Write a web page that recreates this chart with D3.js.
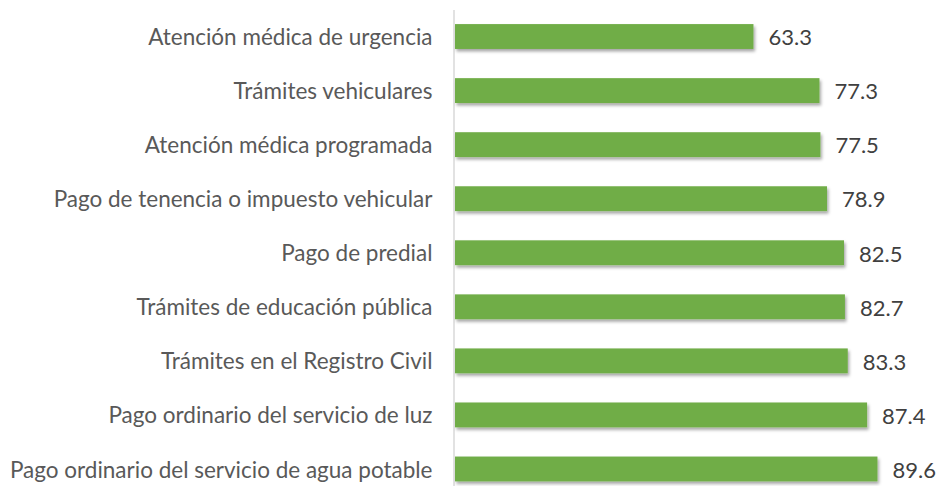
<!DOCTYPE html>
<html>
<head>
<meta charset="utf-8">
<script src="https://cdn.jsdelivr.net/npm/d3@7"></script>
<style>
  body { margin: 0; background: #fff; }
  svg text { font-family: Lato, sans-serif; }
</style>
</head>
<body>
<div id="chart"></div>
<script>
const categories = [
  'Atención médica de urgencia',
  'Trámites vehiculares',
  'Atención médica programada',
  'Pago de tenencia o impuesto vehicular',
  'Pago de predial',
  'Trámites de educación pública',
  'Trámites en el Registro Civil',
  'Pago ordinario del servicio de luz',
  'Pago ordinario del servicio de agua potable'
];
const values = [63.3, 77.3, 77.5, 78.9, 82.5, 82.7, 83.3, 87.4, 89.6];

const width = 939, height = 486;
const x0 = 455;

const svg = d3.select('#chart').append('svg')
  .attr('width', width)
  .attr('height', height);

// soft shadow under the bars
const defs = svg.append('defs');
defs.append('filter')
  .attr('id', 'shadow')
  .attr('x', '-5%').attr('y', '-30%')
  .attr('width', '115%').attr('height', '190%')
  .append('feDropShadow')
  .attr('dx', 1.5).attr('dy', 2.5)
  .attr('stdDeviation', 1.5)
  .attr('flood-color', '#000')
  .attr('flood-opacity', 0.35);

const x = d3.scaleLinear().domain([0, 100]).range([x0, x0 + 471.5]);
const y = d3.scaleBand()
  .domain(categories)
  .range([9.5, 496])
  .paddingInner(0.54)
  .paddingOuter(0.27);

const yAxis = svg.append('g')
  .attr('transform', `translate(${x0 - 1.5},0)`)
  .call(d3.axisLeft(y).tickSize(0).tickPadding(21));
yAxis.select('.domain').attr('stroke', '#d9d9d9').attr('stroke-width', 1.5);
yAxis.selectAll('text')
  .attr('dy', '0.38em')
  .style('font-size', '22.5px')
  .attr('fill', '#595959');

svg.selectAll('.bar')
  .data(values)
  .enter().append('rect')
  .attr('class', 'bar')
  .attr('x', x(0))
  .attr('y', (d, i) => y(categories[i]))
  .attr('width', d => x(d) - x(0))
  .attr('height', y.bandwidth())
  .attr('fill', '#70ad47')
  .attr('filter', 'url(#shadow)');

svg.selectAll('.label')
  .data(values)
  .enter().append('text')
  .attr('class', 'label')
  .attr('x', d => x(d) + 15)
  .attr('y', (d, i) => y(categories[i]) + y.bandwidth() / 2)
  .attr('dy', '0.4em')
  .style('font-size', '22px')
  .attr('fill', '#404040')
  .text(d => d.toFixed(1));
</script>
</body>
</html>
